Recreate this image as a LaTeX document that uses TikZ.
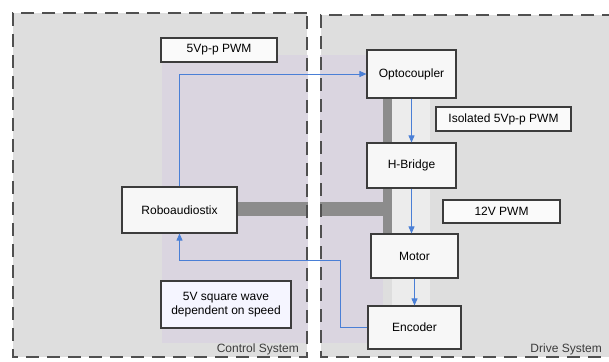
\documentclass[tikz,border=0pt]{standalone}
\usepackage{fontspec}
\setmainfont{Liberation Sans}
\usepackage{tikz}
\usetikzlibrary{arrows.meta}

\definecolor{boxgray}{HTML}{DEDEDE}
\definecolor{lav}{HTML}{DAD5E0}
\definecolor{barg}{HTML}{8C8C8C}
\definecolor{sig}{HTML}{4A7FD6}
\definecolor{edge}{HTML}{3C3C3C}

\begin{document}
\begin{tikzpicture}[x=1pt,y=-1pt,
  font=\fontsize{12}{13.5}\selectfont,
  blk/.style={draw=edge,line width=1.1pt,fill=white!94!gray,inner sep=2pt},
  tag/.style={draw=edge,line width=1.1pt,fill=white!96!gray,inner sep=1pt},
  sigline/.style={sig,line width=0.8pt},
  sigarrow/.style={sigline,-{Triangle[length=7pt,width=6pt]}},
  sysbox/.style={edge!90,line width=2.8pt,dash pattern=on 13pt off 8pt}]
\useasboundingbox (0,0) rectangle (609,361);
\clip (0,0) rectangle (609,361);

% backgrounds
\fill[boxgray] (13,13) rectangle (307,357);
\fill[boxgray] (321,15) rectangle (615,357);
\fill[lav] (162,55) rectangle (383,343);
\fill[white,opacity=0.45] (392,85) rectangle (430,318);

% thick bus
\fill[barg] (237,202) rectangle (392,216);
\fill[barg] (383,98) rectangle (392,234);
\fill[white] (308,0) rectangle (320,361);

% blocks
\node[blk,minimum width=89pt,minimum height=48pt] (opto) at (411.5,74) {Optocoupler};
\node[blk,minimum width=89pt,minimum height=45pt] (hb) at (411.5,165.5) {H-Bridge};
\node[blk,minimum width=87pt,minimum height=44pt] (motor) at (414.5,256) {Motor};
\node[blk,minimum width=93pt,minimum height=43pt] (enc) at (414.5,327.5) {Encoder};
\node[blk,minimum width=115pt,minimum height=46pt] (robo) at (179.5,210) {Roboaudiostix};

% labels
\node[tag,minimum width=116pt,minimum height=24pt] (pwm) at (219,50) {5Vp-p PWM};
\node[tag,minimum width=135pt,minimum height=24pt] (iso) at (503.5,119) {Isolated 5Vp-p PWM};
\node[tag,minimum width=117pt,minimum height=23pt] (v12) at (501.5,211.5) {12V PWM};
\node[tag,fill=blue!4!white,minimum width=130pt,minimum height=47pt,align=center] (sq) at (226,304.5) {5V square wave\\dependent on speed};

% signals
\draw[sigarrow] (robo.north) |- (opto.west);
\draw[sigarrow] (opto.south) -- (hb.north);
\draw[sigarrow] (hb.south) -- (hb.south |- motor.north);
\draw[sigarrow] (motor.south) -- (enc.north);
\coordinate (fb) at (340,260);
\draw[sigarrow] (enc.west) -| (fb) -| (robo.south);

% system borders
\draw[sysbox] (307,13) -- (13,13) -- (13,357) -- (307,357) -- cycle;
\draw[sysbox] (615,15) -- (321,15) -- (321,357) -- (615,357);
\node[anchor=south east,text=edge,inner sep=1pt] (cs) at (300,356) {Control System};
\node[anchor=south east,text=edge,inner sep=1pt] (ds) at (603,356) {Drive System};
\end{tikzpicture}
\end{document}
